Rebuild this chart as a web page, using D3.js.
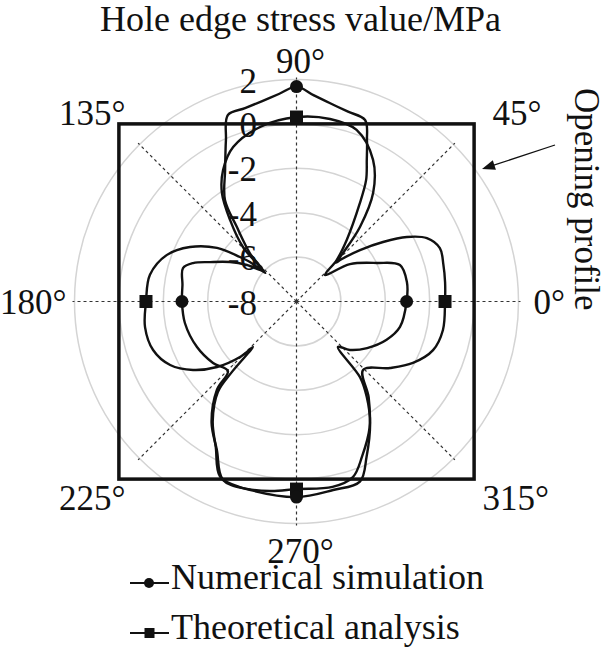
<!DOCTYPE html>
<html>
<head>
<meta charset="utf-8">
<script src="https://cdn.jsdelivr.net/npm/d3@7"></script>
<style>
  html, body { margin: 0; padding: 0; background: #fff; }
  svg { display: block; }
  text { font-family: "Liberation Serif", "Times New Roman", serif; fill: #111; }
</style>
</head>
<body>
<svg id="chart" width="605" height="654"></svg>
<script>
// ---- data (angle in degrees, counter-clockwise from 0°; value in MPa) ----
const numAngles = [0, 10, 19.4, 25.6, 35, 42.9, 45.9, 50.8, 57, 60.2, 63.6, 66.4, 69.3, 74.8, 80.2, 85.3, 90,
  94.7, 99.7, 104.9, 110.2, 113.6, 118.5, 125.2, 128.6, 134, 137.6, 143.6, 149.3, 155.5, 159.6, 163.6, 171.8, 180,
  190.9, 204.6, 216.4, 225.4, 228, 235, 241.8, 247.6, 256, 270,
  281, 289.4, 294.3, 301.2, 306.4, 310, 312.4, 317.8, 326.6, 337, 346.2];
const numValues = [-3.04, -2.95, -3.06, -3.98, -5.06, -6.25, -5.4, -4.42, -2.8, -1.69, -0.88, -0.07, 0.74, 0.86, 1.05, 1.33, 1.68,
  1.39, 1.16, 1.01, 0.95, -0.06, -1.26, -2.41, -3.68, -4.98, -5.9, -5.23, -4.52, -3.72, -3.03, -2.67, -2.81, -2.84,
  -2.88, -3.07, -3.33, -3.6, -2.64, -1.33, -0.41, 0.69, 0.74, 0.81,
  0.65, 0.6, -0.33, -1.6, -2.67, -3.55, -5.23, -4.75, -4.19, -3.59, -3.2];

const theoAngles = [0, 7.5, 14, 20.4, 25.9, 30.3, 34.5, 39, 43.6, 44.5, 46.2, 49.6, 54.8, 61.6, 70.7, 79.6, 90,
  101.8, 112.3, 119.2, 124.5, 129.2, 134.5, 137.5, 139.7, 141.8, 146, 152.9, 160.2, 169.7, 180,
  189.6, 198.7, 206.7, 213.5, 219.5, 224.5, 226.3, 227.5, 229, 235, 241, 246.4, 253, 262, 270,
  281, 287.8, 293, 300, 307, 314.2, 324.6, 332.2, 340.4, 349];
const theoValues = [-1.31, -1.25, -1.18, -1.11, -1.47, -2.24, -3.27, -4.32, -5.29, -5.5, -4.98, -3.59, -2.01, -0.75, 0.19, 0.36, 0.31,
  0.03, -0.48, -1.22, -2.07, -3.27, -4.56, -6.1, -5.25, -4.76, -3.68, -2.61, -1.8, -1.29, -1.22,
  -1.08, -1.18, -1.63, -2.41, -3.36, -4.43, -5.16, -3.7, -2.6, -1.42, -0.5, 0.6, 0.74, 0.62, 0.45,
  0.51, 0.31, -0.43, -1.42, -2.6, -3.7, -2.83, -2.07, -1.47, -1.28];

const markerAngles = [0, 90, 180, 270];
const gridValues = [-6, -4, -2, 0, 2];
const tickValues = [2, 0, -2, -4, -6, -8];
const tickLabels = ["2", "0", "-2", "-4", "-6", "-8"];
const spokeAngles = [0, 45, 90, 135, 180, 225, 270, 315];
const spokeLabels = ["0°", "45°", "90°", "135°", "180°", "225°", "270°", "315°"];
const openingValue = 0;
const titleText = "Hole edge stress value/MPa";
const legendNames = ["Numerical simulation", "Theoretical analysis"];
const annotationText = "Opening profile";

// ---- layout ----
const svg = d3.select("#chart");
const cx = 296.5, cy = 301.5;
const r = d3.scaleLinear().domain([-8, 2]).range([0, 222]);
const rad = a => a * Math.PI / 180;
const px = (a, v) => cx + r(v) * Math.cos(rad(a));
const py = (a, v) => cy - r(v) * Math.sin(rad(a));
const FS = 35;

// grid circles
svg.append("g").selectAll("circle").data(gridValues).join("circle")
  .attr("cx", cx).attr("cy", cy).attr("r", d => r(d))
  .attr("fill", "none").attr("stroke", "#d4d4d4").attr("stroke-width", 1.5);

// spokes
svg.append("g").selectAll("line").data(spokeAngles).join("line")
  .attr("x1", cx).attr("y1", cy)
  .attr("x2", d => cx + (r(2) + 2) * Math.cos(rad(d)))
  .attr("y2", d => cy - (r(2) + 2) * Math.sin(rad(d)))
  .attr("stroke", "#333").attr("stroke-width", 1.2).attr("stroke-dasharray", "3,3");

// opening profile box
const h = r(openingValue);
svg.append("rect").attr("x", cx - h).attr("y", cy - h).attr("width", 2 * h).attr("height", 2 * h)
  .attr("fill", "none").attr("stroke", "#111").attr("stroke-width", 3.5);

// curves
const radial = d3.lineRadial()
  .angle(d => rad(90 - d.a))
  .radius(d => r(d.v))
  .curve(d3.curveCatmullRomClosed.alpha(0.5));
const numData = numAngles.map((a, i) => ({ a, v: numValues[i] }));
const theoData = theoAngles.map((a, i) => ({ a, v: theoValues[i] }));
const gCurves = svg.append("g").attr("transform", `translate(${cx},${cy})`);
[numData, theoData].forEach(data => {
  gCurves.append("path").attr("d", radial(data))
    .attr("fill", "none").attr("stroke", "#111").attr("stroke-width", 2.4).attr("stroke-linejoin", "round");
});

// markers
const valAt = (angles, values, a) => values[angles.indexOf(a)];
svg.append("g").selectAll("rect").data(markerAngles).join("rect")
  .attr("x", a => px(a, valAt(theoAngles, theoValues, a)) - 6.5)
  .attr("y", a => py(a, valAt(theoAngles, theoValues, a)) - 6.5)
  .attr("width", 13).attr("height", 13).attr("fill", "#111");
svg.append("g").selectAll("circle").data(markerAngles).join("circle")
  .attr("cx", a => px(a, valAt(numAngles, numValues, a)))
  .attr("cy", a => py(a, valAt(numAngles, numValues, a)))
  .attr("r", 6.5).attr("fill", "#111");

// radial tick labels
svg.append("g").selectAll("text").data(tickValues).join("text")
  .attr("x", cx - 39.5).attr("y", d => cy - r(d) + 13)
  .attr("text-anchor", "end").attr("font-size", FS)
  .text((d, i) => tickLabels[i]);

// angle labels
const labelPos = {
  0:   { dx: 237, dy: 12, anchor: "start" },
  45:  { dx: 196, dy: -177, anchor: "start" },
  90:  { dx: 4, dy: -229, anchor: "middle" },
  135: { dx: -171, dy: -177, anchor: "end" },
  180: { dx: -230, dy: 12, anchor: "end" },
  225: { dx: -171, dy: 208, anchor: "end" },
  270: { dx: 4, dy: 261, anchor: "middle" },
  315: { dx: 186, dy: 208, anchor: "start" }
};
svg.append("g").selectAll("text").data(spokeAngles).join("text")
  .attr("x", d => cx + labelPos[d].dx).attr("y", d => cy + labelPos[d].dy)
  .attr("text-anchor", d => labelPos[d].anchor).attr("font-size", FS)
  .text((d, i) => spokeLabels[i]);

// title
svg.append("text").attr("x", cx + 4).attr("y", 31).attr("text-anchor", "middle")
  .attr("font-size", 36).text(titleText);

// annotation
svg.append("text").attr("transform", "translate(575,88) rotate(90)")
  .attr("font-size", FS).text(annotationText);
const ax1 = 555, ay1 = 145, ax2 = 482, ay2 = 169;
svg.append("line").attr("x1", ax1).attr("y1", ay1).attr("x2", ax2 + 8).attr("y2", ay2 - 2.6)
  .attr("stroke", "#111").attr("stroke-width", 1.3);
{
  const ang = Math.atan2(ay2 - ay1, ax2 - ax1);
  const L = 13, W = 5;
  const bx = ax2 - L * Math.cos(ang), by = ay2 - L * Math.sin(ang);
  const pts = [[ax2, ay2], [bx + W * Math.sin(ang), by - W * Math.cos(ang)], [bx - W * Math.sin(ang), by + W * Math.cos(ang)]];
  svg.append("polygon").attr("points", pts.map(p => p.join(",")).join(" ")).attr("fill", "#111");
}

// legend
const legY = [583, 633];
const lg = svg.append("g");
legendNames.forEach((name, i) => {
  lg.append("line").attr("x1", 130).attr("x2", 169).attr("y1", legY[i]).attr("y2", legY[i])
    .attr("stroke", "#111").attr("stroke-width", 2);
  if (i === 0) {
    lg.append("circle").attr("cx", 149).attr("cy", legY[i]).attr("r", 5).attr("fill", "#111");
  } else {
    lg.append("rect").attr("x", 144.5).attr("y", legY[i] - 5).attr("width", 10).attr("height", 10).attr("fill", "#111");
  }
  lg.append("text").attr("x", 171).attr("y", legY[i] + 6).attr("font-size", 36).text(name);
});
</script>
</body>
</html>
